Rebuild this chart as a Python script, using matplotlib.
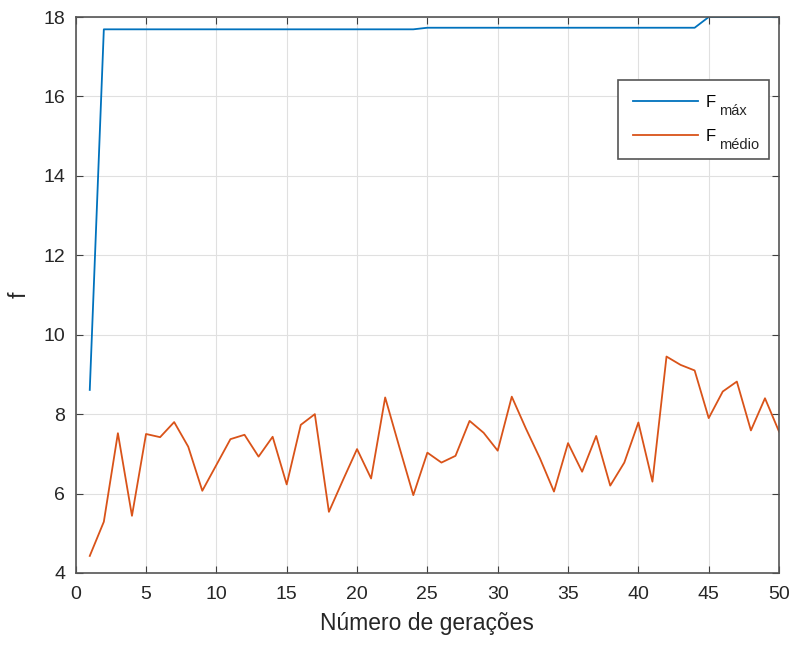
import matplotlib
matplotlib.use("Agg")
import matplotlib.pyplot as plt

plt.rcParams['font.family'] = ['Liberation Sans', 'DejaVu Sans']

geracoes = list(range(1, 51))
f_max = [8.61, 17.69] + [17.69] * 22 + [17.73] * 20 + [18.0] * 6
f_medio = [4.43, 5.29, 7.52, 5.44, 7.50, 7.42, 7.80, 7.18, 6.07, 6.72,
           7.37, 7.48, 6.93, 7.43, 6.23, 7.73, 8.00, 5.54, 6.34, 7.12,
           6.38, 8.42, 7.18, 5.96, 7.03, 6.78, 6.95, 7.83, 7.53, 7.08,
           8.44, 7.64, 6.89, 6.05, 7.27, 6.55, 7.45, 6.20, 6.78, 7.79,
           6.30, 9.45, 9.24, 9.10, 7.90, 8.57, 8.82, 7.59, 8.40, 7.56]
xticks = list(range(0, 51, 5))
yticks = list(range(4, 19, 2))
legend_base = ['F', 'F']
legend_sub = ['máx', 'médio']

fig = plt.figure(figsize=(7.96, 6.47), dpi=100)
ax = fig.add_axes([0.0951, 0.1144, 0.8836, 0.8593])
ax.plot(geracoes, f_max, color='#0072BD', lw=1.3, label=legend_base[0])
ax.plot(geracoes, f_medio, color='#D95319', lw=1.3, label=legend_base[1])
ax.set_xlim(0, 50)
ax.set_ylim(4, 18)
ax.set_xticks(xticks)
ax.set_yticks(yticks)
ax.grid(True, color='#e0e0e0', lw=0.8)
ax.set_axisbelow(True)
for s in ax.spines.values():
    s.set_color('#555555')
    s.set_linewidth(1.2)
ax.tick_params(direction='in', top=True, right=True, labelsize=14,
               labelcolor='#262626', color='#404040', length=5)
ax.tick_params(axis='x', pad=9.5)
ax.tick_params(axis='y', pad=7.5)
ax.set_xlabel('Número de gerações', fontsize=16.5, color='#262626', labelpad=6)
ax.set_ylabel('f', fontsize=16.5, color='#262626', labelpad=9)

leg = ax.legend(loc='upper left', bbox_to_anchor=(0.771, 0.7480, 0.2147, 0.1387),
                mode='expand', fontsize=12, fancybox=False, edgecolor='#555555',
                framealpha=1, handlelength=3.9, handletextpad=0.45,
                borderpad=0.9, labelspacing=1.15, borderaxespad=0)
leg.get_frame().set_linewidth(1.2)

fig.canvas.draw()
renderer = fig.canvas.get_renderer()
for t, sub in zip(leg.get_texts(), legend_sub):
    bb = t.get_window_extent(renderer)
    _, _, d = renderer.get_text_width_height_descent('lp', t.get_fontproperties(), ismath=False)
    baseline = bb.y0 + d
    fig.text(bb.x1 + 3, baseline - 8.3, sub, fontsize=10.5, color='#262626',
             ha='left', va='baseline', transform=None)

fig.savefig('out.png', dpi=100)
